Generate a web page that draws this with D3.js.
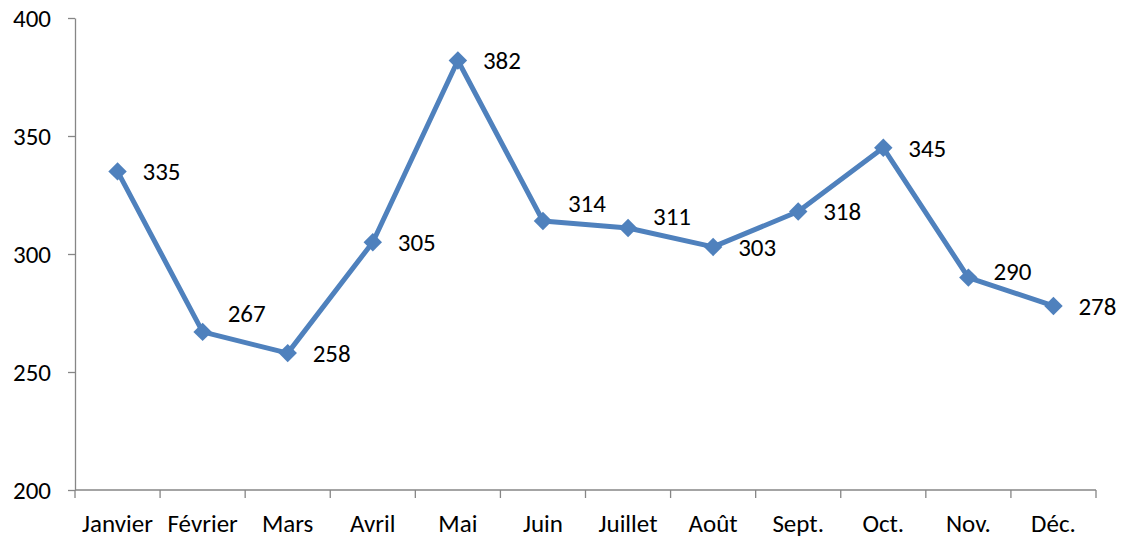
<!DOCTYPE html>
<html>
<head>
<meta charset="utf-8">
<script src="https://cdn.jsdelivr.net/npm/d3@7"></script>
<style>
  body { margin: 0; background: #fff; }
  text { font-family: Carlito, Lato, "Open Sans", sans-serif; fill: #000; }
</style>
</head>
<body>
<svg id="chart" width="1122" height="540"></svg>
<script>
// months and values
var months = ["Janvier", "Février", "Mars", "Avril", "Mai", "Juin", "Juillet", "Août", "Sept.", "Oct.", "Nov.", "Déc."];
var values = [335, 267, 258, 305, 382, 314, 311, 303, 318, 345, 290, 278];
var yTicks = [200, 250, 300, 350, 400];
// vertical nudge of some value labels (moved up to avoid the line)
var labelShift = [0, -19, 0, 0, 0, -18, -12, 0, 0, 0, -6, 0];

var plotLeft = 75, plotRight = 1096, plotTop = 18, plotBottom = 490;
var fontSize = "25px";

var svg = d3.select("#chart");

var xScale = d3.scaleBand().domain(months).range([plotLeft, plotRight]);
var yScale = d3.scaleLinear().domain([200, 400]).range([plotBottom, plotTop]);

// y axis
var yAxis = svg.append("g")
    .attr("transform", "translate(" + plotLeft + ",0)")
    .call(d3.axisLeft(yScale).tickValues(yTicks).tickSize(7).tickPadding(17).tickSizeOuter(0));
yAxis.select(".domain").attr("stroke", "#868686").attr("stroke-width", 1.3);
yAxis.selectAll(".tick line").attr("stroke", "#868686").attr("stroke-width", 1.3);
yAxis.selectAll("text").style("font-size", fontSize).attr("fill", "#000");

// x axis: ticks sit between categories
var xAxis = svg.append("g")
    .attr("transform", "translate(0," + plotBottom + ")");
xAxis.append("line")
    .attr("x1", plotLeft).attr("x2", plotRight)
    .attr("stroke", "#868686").attr("stroke-width", 1.3);
xAxis.selectAll("line.tk")
    .data(d3.range(months.length + 1))
    .enter()
    .append("line")
    .attr("class", "tk")
    .attr("x1", function (i) { return plotLeft + i * xScale.step(); })
    .attr("x2", function (i) { return plotLeft + i * xScale.step(); })
    .attr("y1", 0).attr("y2", 8)
    .attr("stroke", "#868686").attr("stroke-width", 1.3);
xAxis.selectAll("text")
    .data(months)
    .enter()
    .append("text")
    .attr("x", function (d) { return xScale(d) + xScale.bandwidth() / 2; })
    .attr("y", 42)
    .attr("text-anchor", "middle")
    .style("font-size", fontSize)
    .text(function (d) { return d; });

var cx = function (d, i) { return xScale(months[i]) + xScale.bandwidth() / 2; };

var line = d3.line()
    .x(function (d, i) { return cx(d, i); })
    .y(function (d) { return yScale(d); });

svg.append("path")
    .datum(values)
    .attr("fill", "none")
    .attr("stroke", "#4F81BD")
    .attr("stroke-width", 5)
    .attr("stroke-linejoin", "round")
    .attr("d", line);

svg.selectAll("path.mk")
    .data(values)
    .enter()
    .append("path")
    .attr("class", "mk")
    .attr("d", d3.symbol().type(d3.symbolSquare).size(170))
    .attr("transform", function (d, i) {
        return "translate(" + cx(d, i) + "," + yScale(d) + ") rotate(45)";
    })
    .attr("fill", "#4F81BD");

svg.selectAll("text.lbl")
    .data(values)
    .enter()
    .append("text")
    .attr("class", "lbl")
    .attr("x", function (d, i) { return cx(d, i) + 25; })
    .attr("y", function (d, i) { return yScale(d) + labelShift[i]; })
    .attr("dy", "0.35em")
    .style("font-size", fontSize)
    .text(function (d) { return d; });
</script>
</body>
</html>
